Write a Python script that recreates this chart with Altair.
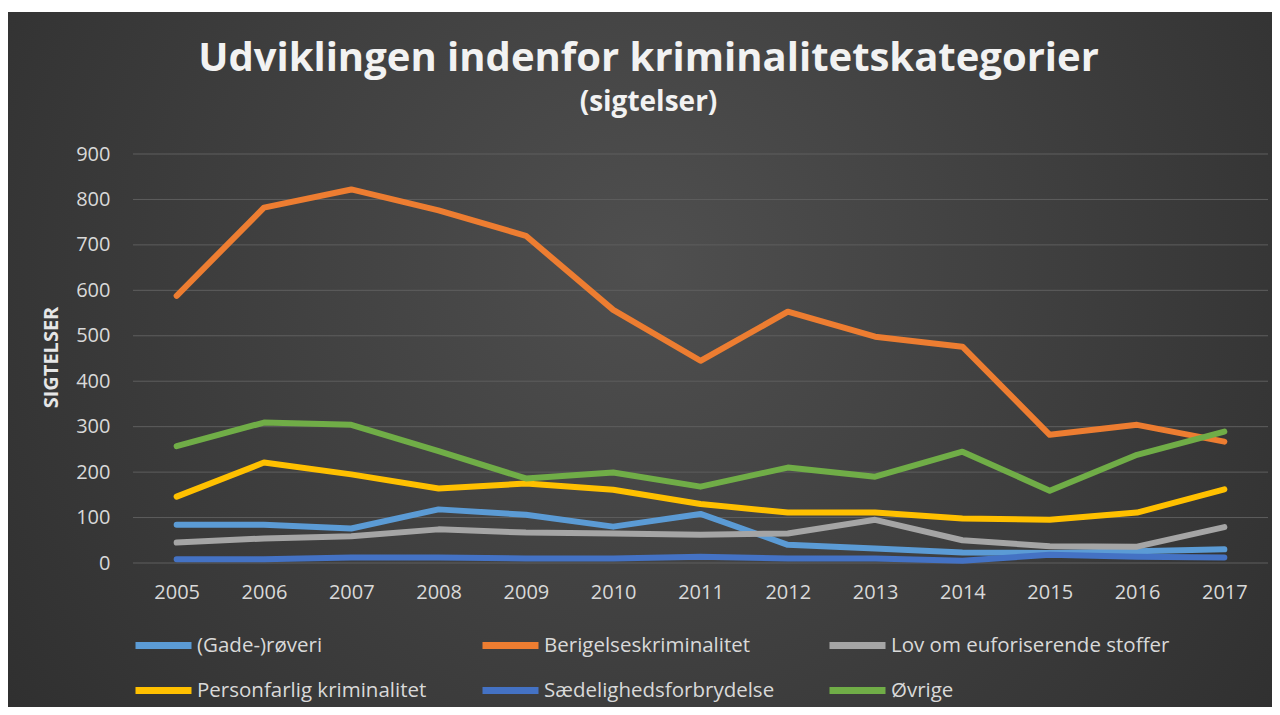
import altair as alt
import pandas as pd

# ---- data ----
years = [str(y) for y in range(2005, 2018)]
series_names = [
    "(Gade-)røveri",
    "Berigelseskriminalitet",
    "Lov om euforiserende stoffer",
    "Personfarlig kriminalitet",
    "Sædelighedsforbrydelse",
    "Øvrige",
]
gade = [84, 84, 76, 118, 106, 80, 108, 40, 32, 23, 22, 26, 30]
berig = [588, 782, 822, 776, 720, 557, 445, 553, 498, 476, 282, 304, 267]
lov = [45, 54, 59, 74, 67, 65, 62, 65, 95, 50, 37, 36, 79]
person = [146, 221, 195, 164, 175, 161, 130, 111, 111, 98, 95, 111, 162]
saed = [8, 8, 12, 12, 10, 10, 14, 10, 10, 5, 18, 14, 12]
ovrige = [257, 309, 304, 246, 186, 199, 168, 210, 190, 245, 159, 238, 289]
series_colors = ["#5B9BD5", "#ED7D31", "#A5A5A5", "#FFC000", "#4472C4", "#70AD47"]
y_ticks = [0, 100, 200, 300, 400, 500, 600, 700, 800, 900]

title_text = "Udviklingen indenfor kriminalitetskategorier"
subtitle_text = "(sigtelser)"
y_title = "SIGTELSER"

values = [gade, berig, lov, person, saed, ovrige]
rows = []
for name, vals in zip(series_names, values):
    for yr, v in zip(years, vals):
        rows.append({"year": yr, "series": name, "value": v})
df = pd.DataFrame(rows)
grid_df = pd.DataFrame({"value": y_ticks})
bg_df = pd.DataFrame({"k": [0]})

W, H = 1135, 409
FONT = "Open Sans"

y_scale = alt.Scale(domain=[0, 900], nice=False)
y_axis = alt.Axis(
    values=y_ticks, labelFont=FONT, labelFontSize=20, labelColor="#d9d9d9",
    labelPadding=23, ticks=False, domain=False, grid=False, zindex=1,
    titleFont=FONT, titleFontSize=20, titleFontWeight="bold", titleColor="#e6e6e6",
    titleAngle=-90, titleX=-82, titleY=203, titleAlign="center", titleBaseline="middle",
)

bg = alt.Chart(bg_df).mark_rect(
    fill=alt.RadialGradient(
        gradient="radial",
        x1=0.5, y1=0.42, r1=0.0,
        x2=0.5, y2=0.42, r2=0.72,
        stops=[
            alt.GradientStop(offset=0.0, color="#4f4f4f"),
            alt.GradientStop(offset=1.0, color="#2a2a2a"),
        ],
    )
).encode(
    x=alt.value(-126), x2=alt.value(W + 20),
    y=alt.value(-142), y2=alt.value(H + 160),
)

grid = alt.Chart(grid_df).mark_rule(color="#5e5e5e", strokeWidth=1).encode(
    y=alt.Y("value:Q", scale=y_scale, title=y_title, axis=y_axis),
    x=alt.value(0), x2=alt.value(W),
)

lines = alt.Chart(df).mark_line(
    strokeWidth=6, strokeCap="round", strokeJoin="round"
).encode(
    x=alt.X(
        "year:O",
        sort=years,
        title=None,
        axis=alt.Axis(
            labelAngle=0, labelFont=FONT, labelFontSize=20, labelColor="#d9d9d9",
            labelPadding=19, ticks=False, domain=False, grid=False, zindex=1,
        ),
    ),
    y=alt.Y("value:Q", scale=y_scale, title=y_title, axis=y_axis),
    color=alt.Color(
        "series:N",
        scale=alt.Scale(domain=series_names, range=series_colors),
        legend=alt.Legend(
            title=None, orient="none", legendX=-1, legendY=469,
            direction="horizontal", columns=3, gridAlign="all",
            columnPadding=3, rowPadding=0, clipHeight=45,
            symbolType="stroke", symbolSize=3136, symbolStrokeWidth=7,
            labelFont=FONT, labelFontSize=20.5, labelColor="#d9d9d9", labelOffset=2,
            labelLimit=400, padding=0, zindex=1,
        ),
    ),
)

chart = alt.layer(bg, grid, lines).properties(
    width=W,
    height=H,
    autosize=alt.AutoSizeParams(type="none"),
    padding={"left": 125, "top": 146, "right": 4, "bottom": 144},
    background="white",
    title=alt.TitleParams(
        text=title_text,
        subtitle=subtitle_text,
        anchor="middle",
        frame="group",
        dx=-52,
        offset=-105,
        font=FONT,
        fontSize=40,
        fontWeight="bold",
        color="#f2f2f2",
        subtitleFont=FONT,
        subtitleFontSize=28,
        subtitleFontWeight="bold",
        subtitleColor="#f2f2f2",
        subtitlePadding=10,
        zindex=1,
    ),
).configure_view(stroke=None)

chart.save("out.html", embed_options={"renderer": "svg", "actions": False})
